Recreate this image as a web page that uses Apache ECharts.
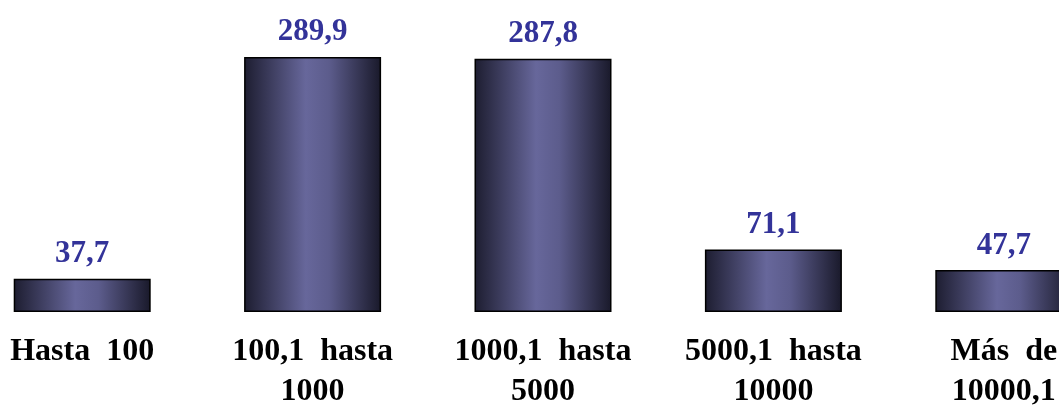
<!DOCTYPE html>
<html>
<head>
<meta charset="utf-8">
<script src="https://cdn.jsdelivr.net/npm/echarts@6/dist/echarts.min.js"></script>
<style>
  html, body { margin: 0; padding: 0; background: #fff; overflow: hidden; }
  #chart { width: 1059px; height: 405px; }
</style>
</head>
<body>
<div id="chart"></div>
<script>
// categorías y valores
const categories = ['Hasta  100', '100,1  hasta\n1000', '1000,1  hasta\n5000', '5000,1  hasta\n10000', 'Más  de\n10000,1']
const values = [37.7, 289.9, 287.8, 71.1, 47.7]

const chart = echarts.init(document.getElementById('chart'), null, { renderer: 'canvas' })

// degradado horizontal: bordes oscuros, centro claro
const barFill = new echarts.graphic.LinearGradient(0, 0, 1, 0, [
  { offset: 0, color: '#1d1d30' },
  { offset: 0.45, color: '#67679b' },
  { offset: 0.62, color: '#5c5c8c' },
  { offset: 1, color: '#19192a' }
])

const option = {
  backgroundColor: '#ffffff',
  animation: false,
  grid: {
    top: 12,
    bottom: 93,
    left: -33,
    right: -60,
    outerBoundsMode: 'none',
    containLabel: false
  },
  xAxis: {
    type: 'category',
    data: categories,
    axisLine: { show: false },
    axisTick: { show: false },
    axisLabel: {
      interval: 0,
      margin: 20,
      color: '#000',
      fontFamily: 'Liberation Serif',
      fontWeight: 'bold',
      fontSize: 32,
      lineHeight: 40,
      hideOverlap: false
    }
  },
  yAxis: {
    type: 'value',
    min: 0,
    max: 341,
    show: false,
    splitLine: { show: false }
  },
  series: [
    {
      type: 'bar',
      data: values,
      barWidth: 137,
      itemStyle: {
        color: barFill,
        borderColor: '#000',
        borderWidth: 1.5
      },
      label: {
        show: true,
        position: 'top',
        distance: 9,
        color: '#333399',
        fontFamily: 'Liberation Serif',
        fontWeight: 'bold',
        fontSize: 31,
        formatter: (p) => p.value.toFixed(1).replace('.', ',')
      }
    }
  ]
}

chart.setOption(option)
</script>
</body>
</html>
